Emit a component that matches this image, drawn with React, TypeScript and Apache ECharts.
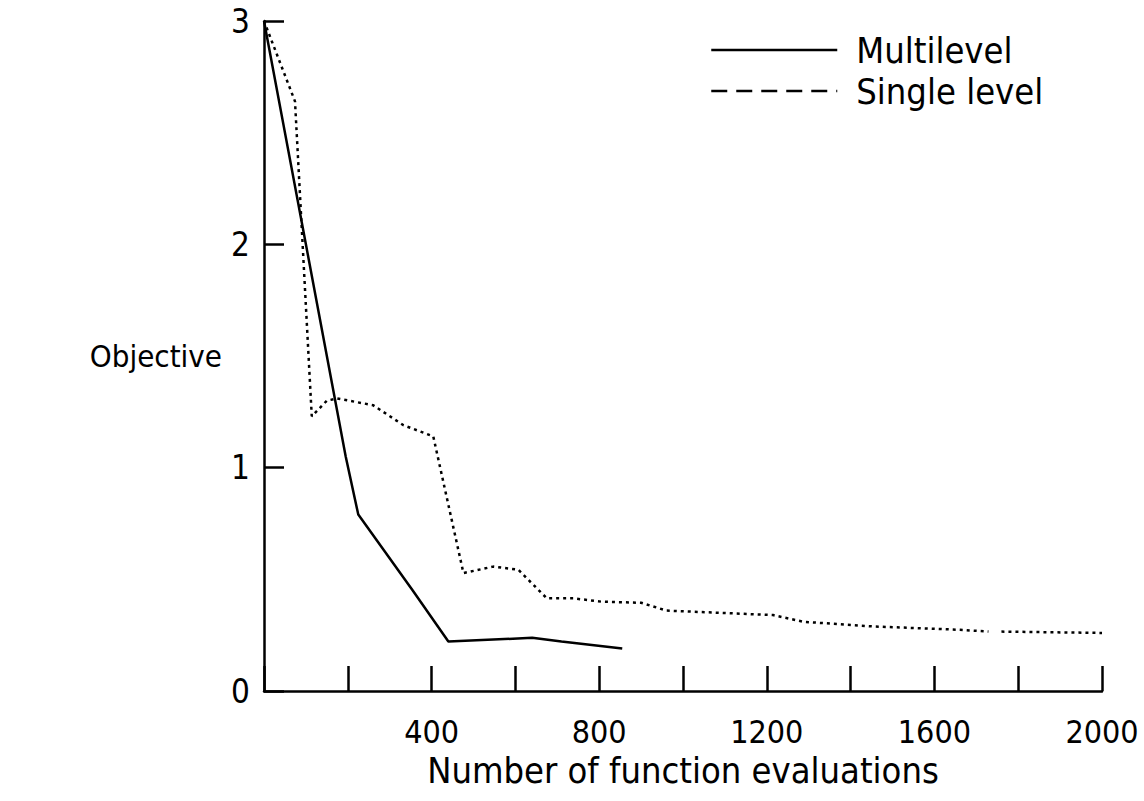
import React, { useEffect, useRef } from "react";
import * as echarts from "echarts";

const xTicks = [0, 200, 400, 600, 800, 1000, 1200, 1400, 1600, 1800, 2000];
const yTicks = [0, 1, 2, 3];

const multilevelX = [0, 195, 225, 355, 440, 640, 710, 855];
const multilevelY = [3.0, 1.05, 0.79, 0.45, 0.222, 0.238, 0.222, 0.19];

const singleX = [0, 74, 114, 150, 174, 260, 333, 404, 476, 547, 607, 675, 738, 805, 900, 961, 1215, 1287, 1454, 1566, 1661, 1729];
const singleY = [3.0, 2.64, 1.23, 1.3, 1.31, 1.28, 1.19, 1.14, 0.528, 0.557, 0.543, 0.415, 0.415, 0.4, 0.395, 0.36, 0.34, 0.31, 0.289, 0.281, 0.274, 0.266];
const singleTailX = [1760, 2000];
const singleTailY = [0.266, 0.26];

const FONT = '"DejaVu Sans Condensed", "Liberation Sans Narrow", "Open Sans", sans-serif';
const HIDE = { color: "rgba(0,0,0,0)", borderWidth: 0, opacity: 0 };

export default function App() {
  const ref = useRef<HTMLDivElement>(null);
  useEffect(() => {
    if (!ref.current) return;
    const chart = echarts.init(ref.current, undefined, { renderer: "svg" });
    const zip = (xs: number[], ys: number[]) => xs.map((x, i) => [x, ys[i]]);
    chart.setOption({
      animation: false,
      backgroundColor: "#ffffff",
      grid: { left: 264, right: 42, top: 21, bottom: 110, containLabel: false },
      legend: {
        orient: "vertical",
        left: 705,
        top: 27,
        itemWidth: 126,
        itemHeight: 14,
        itemGap: 5,
        textStyle: { fontSize: 36, color: "#000", fontFamily: FONT, padding: [0, 0, 0, 14] },
        data: [
          { name: "Multilevel", itemStyle: HIDE, lineStyle: { type: "solid", width: 2.5 } },
          { name: "Single level", itemStyle: HIDE, lineStyle: { type: [16, 9], width: 2.5 } },
        ],
      },
      xAxis: {
        type: "value",
        min: xTicks[0],
        max: xTicks[xTicks.length - 1],
        interval: 200,
        name: "Number of function evaluations",
        nameLocation: "middle",
        nameGap: 60,
        nameTextStyle: { fontSize: 36, color: "#000", fontFamily: FONT },
        axisLine: { lineStyle: { color: "#000", width: 2.5 } },
        axisTick: { inside: true, length: 25, lineStyle: { color: "#000", width: 2.5 } },
        splitLine: { show: false },
        axisLabel: {
          fontSize: 32,
          color: "#000",
          fontFamily: FONT,
          margin: 25,
          formatter: (v: number) => (v > 0 && v % 400 === 0 ? String(v) : ""),
        },
      },
      yAxis: {
        type: "value",
        min: yTicks[0],
        max: yTicks[yTicks.length - 1],
        interval: 1,
        name: "Objective",
        nameLocation: "middle",
        nameRotate: 0,
        nameGap: 42,
        nameTextStyle: { fontSize: 31, color: "#000", fontFamily: FONT, align: "right", padding: [0, 0, 40, 0] },
        axisLine: { lineStyle: { color: "#000", width: 2.5 } },
        axisTick: { inside: true, length: 20, lineStyle: { color: "#000", width: 2.5 } },
        splitLine: { show: false },
        axisLabel: { fontSize: 33, color: "#000", fontFamily: FONT, margin: 14 },
      },
      series: [
        {
          name: "Multilevel",
          type: "line",
          data: zip(multilevelX, multilevelY),
          symbol: "none",
          lineStyle: { color: "#000", width: 2.5, type: "solid" },
          itemStyle: { color: "#000" },
        },
        {
          name: "Single level",
          type: "line",
          data: zip(singleX, singleY),
          symbol: "none",
          lineStyle: { color: "#000", width: 2.5, type: [3, 4] },
          itemStyle: { color: "#000" },
        },
        {
          name: "Single level",
          type: "line",
          data: zip(singleTailX, singleTailY),
          symbol: "none",
          lineStyle: { color: "#000", width: 2.5, type: [3, 4] },
          itemStyle: { color: "#000" },
        },
      ],
    });
    return () => chart.dispose();
  }, []);
  return (
    <div
      ref={ref}
      style={{ position: "fixed", left: 0, top: 0, width: 1144, height: 801, background: "#fff" }}
    />
  );
}
